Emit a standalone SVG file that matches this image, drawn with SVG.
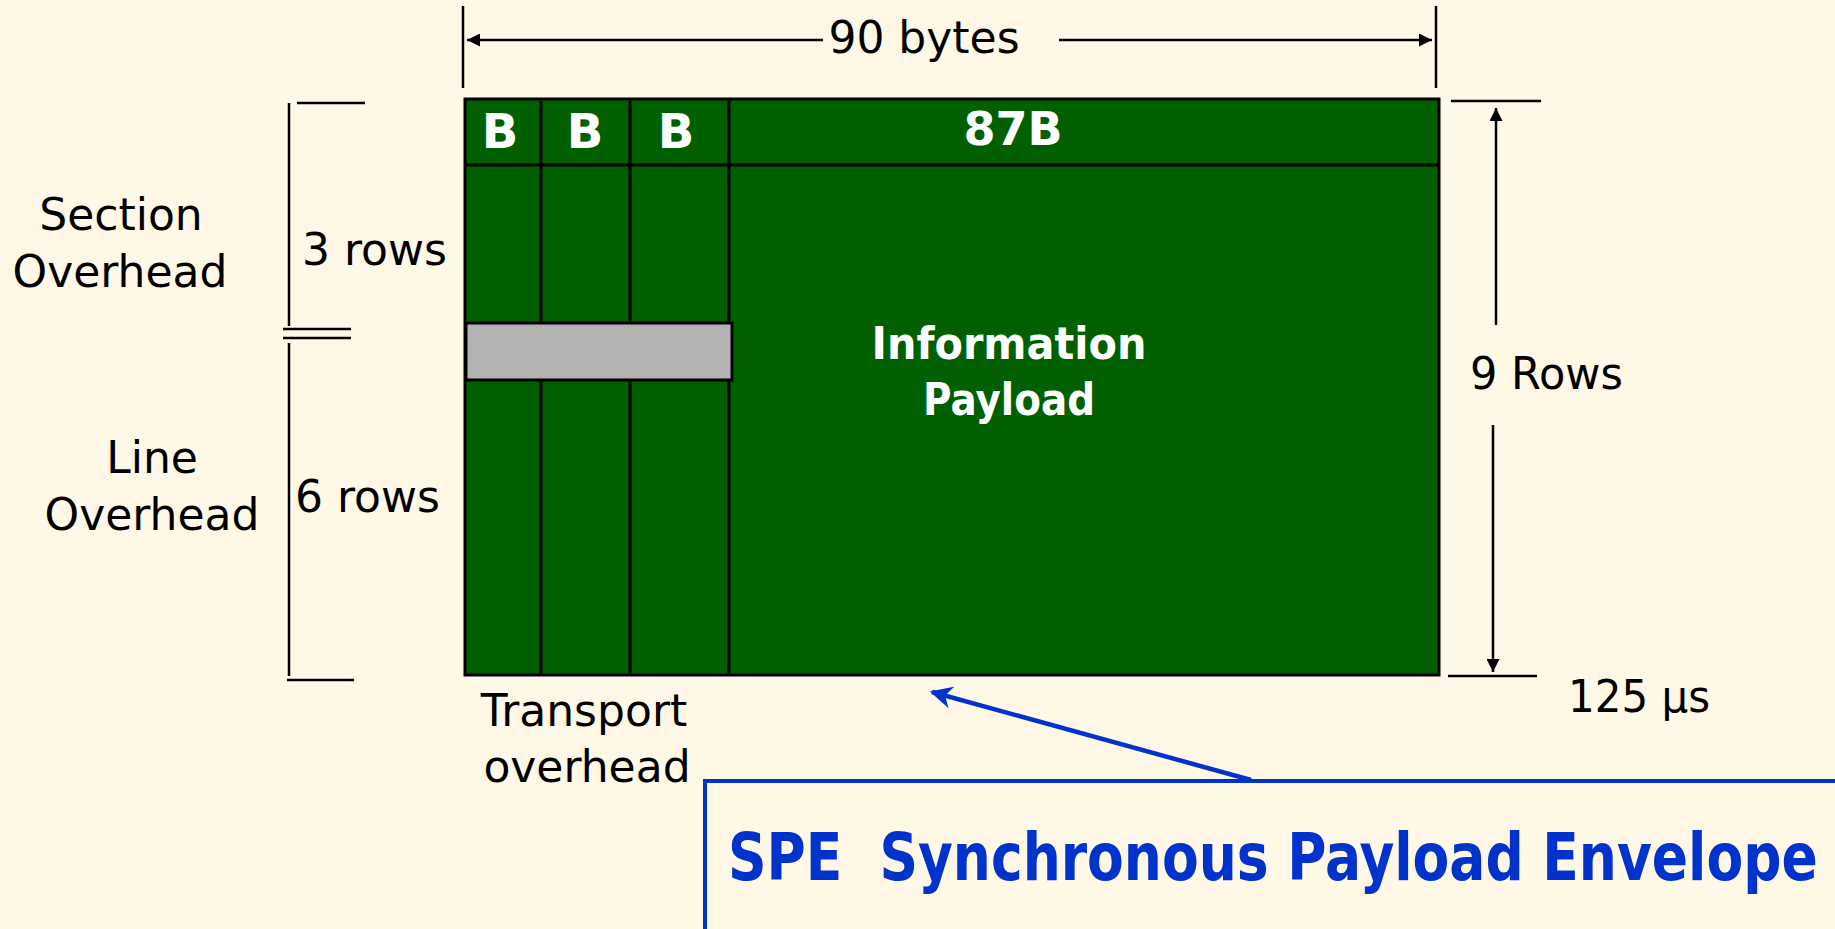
<svg xmlns="http://www.w3.org/2000/svg" width="1835" height="929" viewBox="0 0 1835 929">
<defs>
<style>
.t{font-family:"DejaVu Sans","Liberation Sans",sans-serif;fill:#000;font-size:44px}
.w{font-family:"DejaVu Sans","Liberation Sans",sans-serif;fill:#fff;font-weight:bold}
.dim{stroke:#000;stroke-width:2.5;fill:none}
.grid{stroke:#000;stroke-width:3;fill:none}
</style>
<marker id="ah" viewBox="0 0 10 10" refX="10" refY="5" markerWidth="15" markerHeight="13" markerUnits="userSpaceOnUse" orient="auto">
<path d="M0,0 L10,5 L0,10 z" fill="#000"/>
</marker>
<marker id="ahb" viewBox="0 0 10 10" refX="9" refY="5" markerWidth="5" markerHeight="5" orient="auto">
<path d="M0,0 L10,5 L0,10 L3,5 z" fill="#0033CC"/>
</marker>
</defs>
<rect width="1835" height="929" fill="#FFF8E6"/>

<g id="frame">
<rect x="465" y="99" width="974" height="576" fill="#006000" stroke="#000" stroke-width="3"/>
<line class="grid" x1="465" y1="165" x2="1439" y2="165"/>
<line class="grid" x1="541" y1="101" x2="541" y2="675"/>
<line class="grid" x1="630" y1="101" x2="630" y2="675"/>
<line class="grid" x1="729" y1="101" x2="729" y2="675"/>
<rect x="466" y="323" width="266" height="57" fill="#B3B3B3" stroke="#000" stroke-width="3"/>
<text class="w" x="500" y="148" font-size="48" text-anchor="middle">B</text>
<text class="w" x="585" y="148" font-size="48" text-anchor="middle">B</text>
<text class="w" x="676" y="148" font-size="48" text-anchor="middle">B</text>
<text class="w" x="1013" y="145" font-size="46" text-anchor="middle">87B</text>
<text class="w" x="1009" y="359" font-size="44" text-anchor="middle" textLength="275" lengthAdjust="spacingAndGlyphs">Information</text>
<text class="w" x="1009" y="415" font-size="44" text-anchor="middle" textLength="172" lengthAdjust="spacingAndGlyphs">Payload</text>
</g>

<g id="connectors">
<line class="dim" x1="463" y1="6" x2="463" y2="88"/>
<line class="dim" x1="1436" y1="6" x2="1436" y2="88"/>
<line class="dim" x1="823" y1="40" x2="467" y2="40" marker-end="url(#ah)"/>
<line class="dim" x1="1059" y1="40" x2="1432" y2="40" marker-end="url(#ah)"/>

<line class="dim" x1="289" y1="103" x2="289" y2="326"/>
<line class="dim" x1="297" y1="103" x2="365" y2="103"/>
<line class="dim" x1="283" y1="329" x2="351" y2="329"/>
<line class="dim" x1="283" y1="338" x2="351" y2="338"/>
<line class="dim" x1="289" y1="343" x2="289" y2="676"/>
<line class="dim" x1="287" y1="680" x2="354" y2="680"/>

<line class="dim" x1="1451" y1="101" x2="1541" y2="101"/>
<line class="dim" x1="1496" y1="325" x2="1496" y2="108" marker-end="url(#ah)"/>
<line class="dim" x1="1493" y1="425" x2="1493" y2="672" marker-end="url(#ah)"/>
<line class="dim" x1="1448" y1="676" x2="1537" y2="676"/>

<line x1="1251" y1="780" x2="932" y2="692" stroke="#0033CC" stroke-width="4.5" marker-end="url(#ahb)"/>
</g>

<g id="labels">
<text class="t" x="924" y="53" font-size="45" text-anchor="middle">90 bytes</text>
<text class="t" x="121" y="230" text-anchor="middle">Section</text>
<text class="t" x="120" y="287" text-anchor="middle">Overhead</text>
<text class="t" x="302" y="265">3 rows</text>
<text class="t" x="152" y="473" text-anchor="middle">Line</text>
<text class="t" x="152" y="530" text-anchor="middle">Overhead</text>
<text class="t" x="295" y="512">6 rows</text>
<text class="t" x="1470" y="389" textLength="153" lengthAdjust="spacingAndGlyphs">9 Rows</text>
<text class="t" x="1568" y="712" textLength="142" lengthAdjust="spacingAndGlyphs">125 μs</text>
<text class="t" x="584" y="726" text-anchor="middle">Transport</text>
<text class="t" x="587" y="782" text-anchor="middle">overhead</text>
</g>

<g id="spe">
<rect x="705" y="781" width="1140" height="160" fill="#FFF8E6" stroke="#0033CC" stroke-width="4"/>
<text transform="translate(728,880) scale(0.809,1)" x="0" y="0" font-family="DejaVu Sans, Liberation Sans, sans-serif" font-weight="bold" font-size="66" fill="#0033CC" textLength="1347" lengthAdjust="spacingAndGlyphs" xml:space="preserve">SPE  Synchronous Payload Envelope</text>
</g>
</svg>
